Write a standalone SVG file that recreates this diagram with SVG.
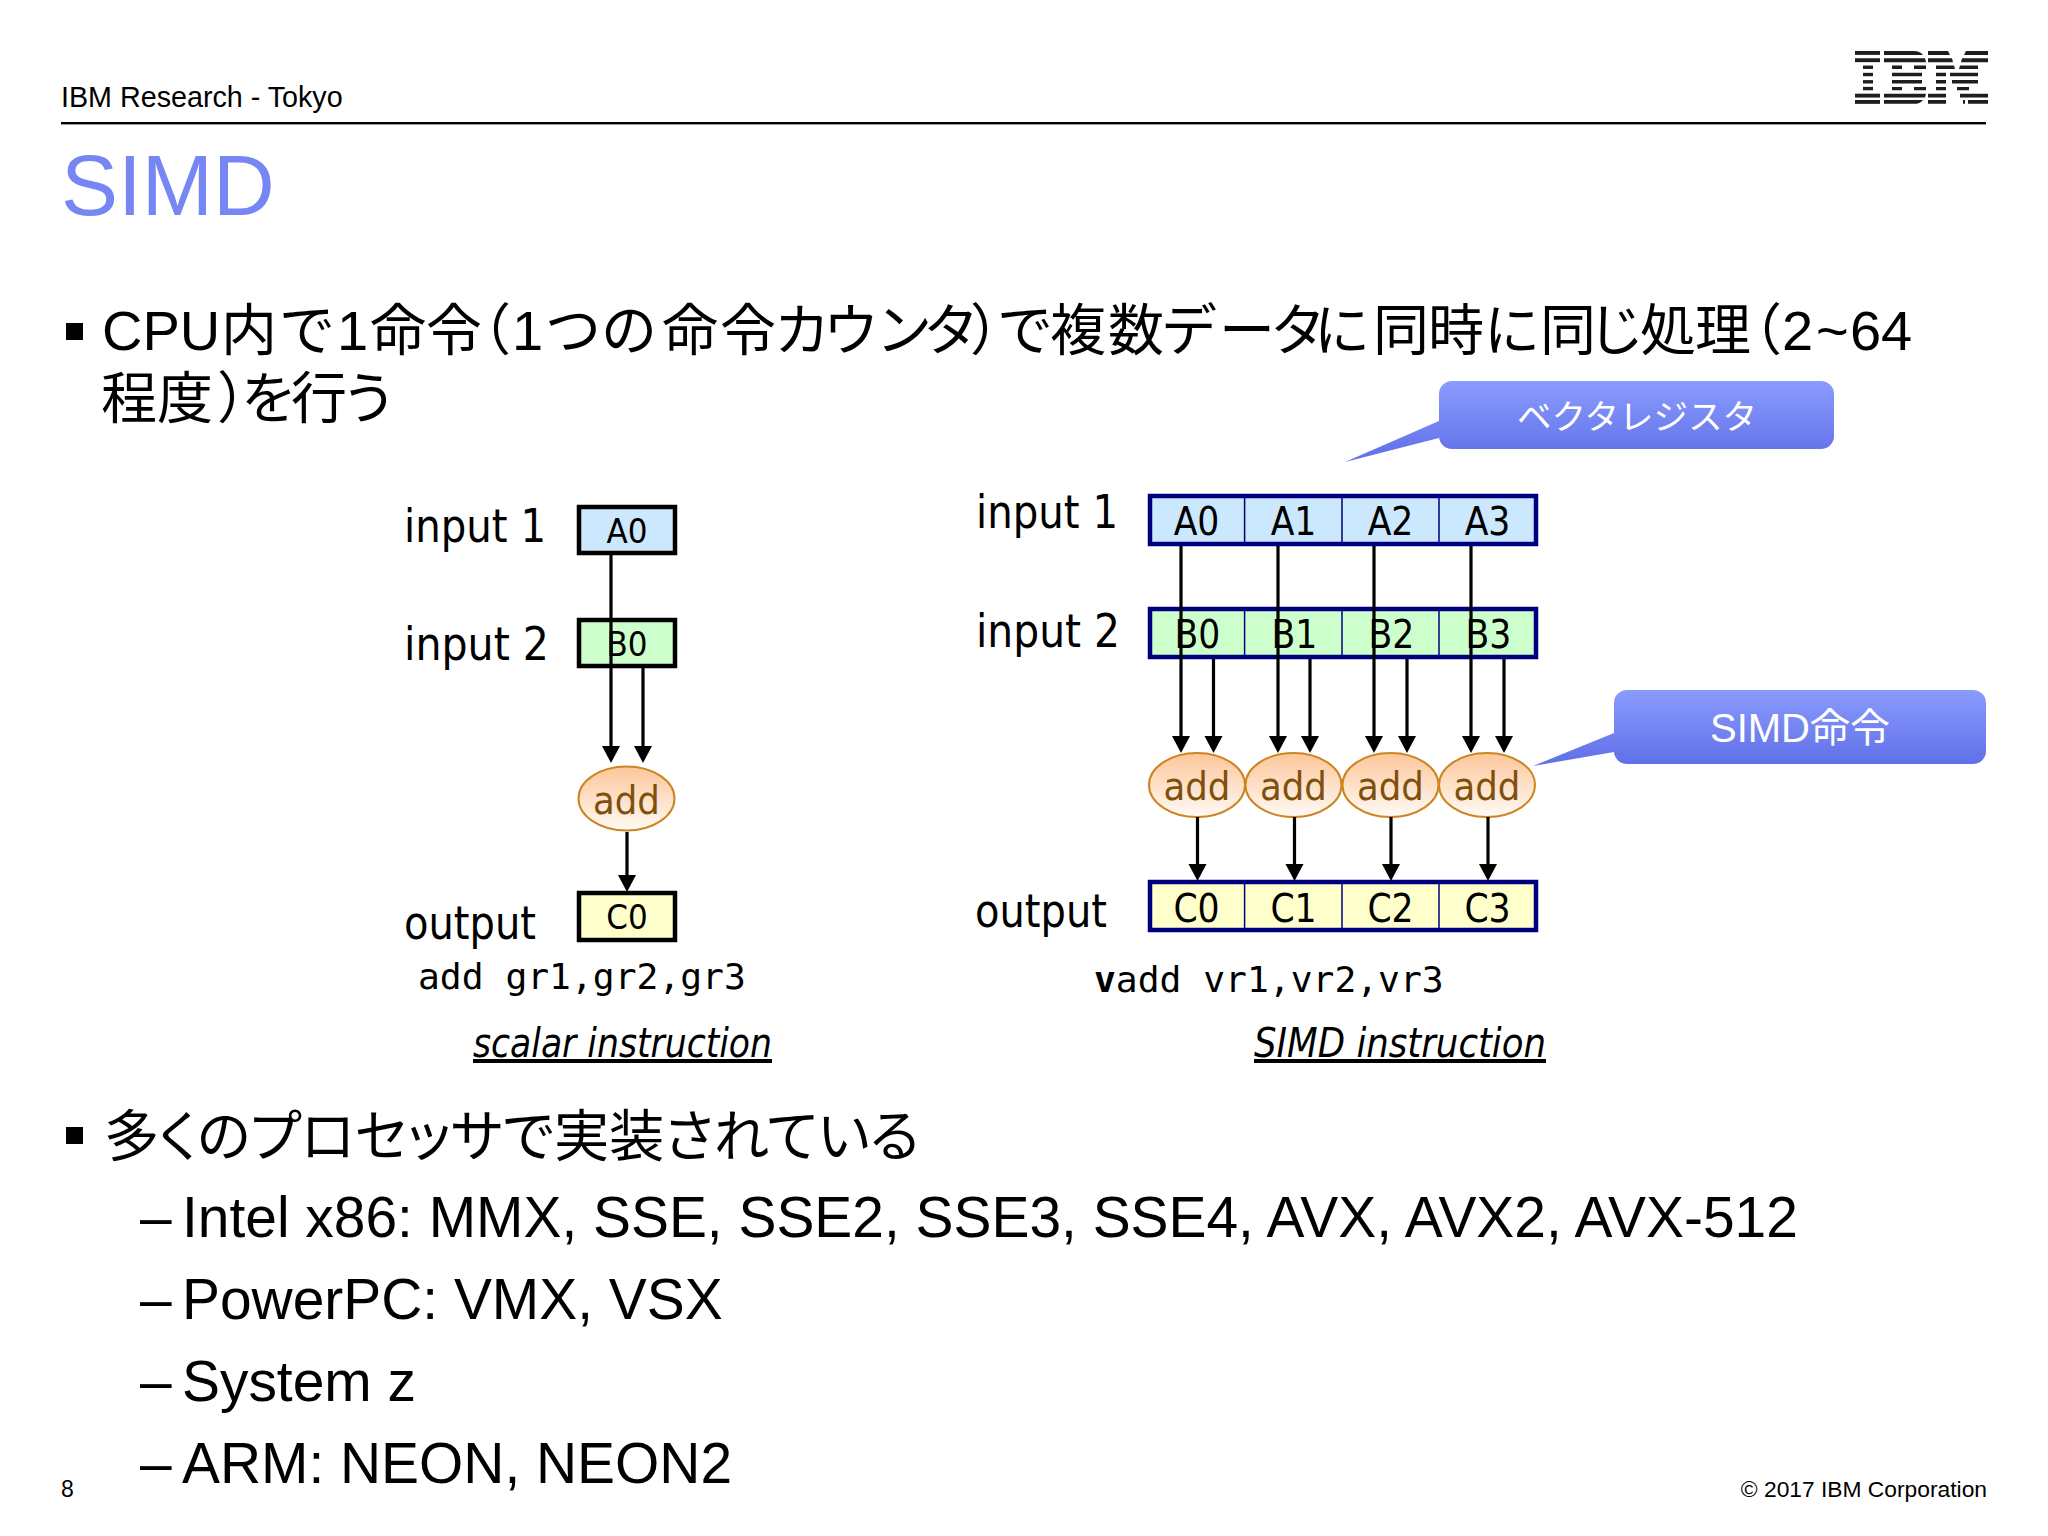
<svg xmlns="http://www.w3.org/2000/svg" width="2048" height="1536" viewBox="0 0 2048 1536">
<style>
.s{font-family:"Liberation Sans","Noto Sans CJK JP",sans-serif;fill:#000}
.j{font-family:"Liberation Sans","Noto Sans CJK JP",sans-serif;fill:#000;font-size:56px}
.p{font-size:55.2px;font-feature-settings:"palt"}
.b{font-size:56.9px}
.t{font-family:"DejaVu Sans Condensed","DejaVu Sans",sans-serif;fill:#000}
.lab{font-size:47px}
.r1{font-size:34.5px;text-anchor:middle}
.r2{font-size:38.5px;text-anchor:middle}
.add{fill:#7f4f0c;text-anchor:middle}
.box{stroke:#000;stroke-width:4.5}
.vec{stroke:#00007f;stroke-width:4.5;fill:none}
.div{stroke:#00007f;stroke-width:1.5}
.op{fill:url(#og);stroke:#cc8521;stroke-width:2}
.code{font-family:"DejaVu Sans Mono",monospace;font-size:36.3px;fill:#000}
.ins{font-family:"DejaVu Sans Condensed","DejaVu Sans",sans-serif;font-style:italic;font-size:40px;text-decoration:underline}
.conn line{stroke:#000;stroke-width:3.2;marker-end:url(#ah)}
.call{fill:url(#cg)}
.ct{font-family:"Liberation Sans","Noto Sans CJK JP",sans-serif;fill:#fff;text-anchor:middle}
.st{fill:#1e1e1e}
</style>
<defs>
<marker id="ah" markerUnits="userSpaceOnUse" markerWidth="20" markerHeight="20" refX="12" refY="9" orient="auto"><path d="M0,0 L17,9 L0,18 z" fill="#000"/></marker>
<linearGradient id="og" x1="0" y1="0" x2="0" y2="1"><stop offset="0" stop-color="#fcc699"/><stop offset="1" stop-color="#fffaf5"/></linearGradient>
<linearGradient id="cg" gradientUnits="objectBoundingBox" x1="0" y1="0" x2="0" y2="1"><stop offset="0" stop-color="#8a9bff"/><stop offset="1" stop-color="#5f6fe6"/></linearGradient>
</defs>
<rect width="2048" height="1536" fill="#fff"/>

<g id="header">
<text class="s" x="61" y="107" font-size="28.7">IBM Research - Tokyo</text>
<rect x="61" y="122" width="1925" height="2.4" fill="#000"/>
<g id="ibm-logo" class="st" transform="translate(0,0.56) scale(1,0.97)">
<rect x="1855" y="52" width="25" height="4"/><rect x="1855" y="59.5" width="25" height="4"/><rect x="1863" y="67" width="10" height="3.5"/><rect x="1863" y="74.5" width="10" height="3.5"/><rect x="1863" y="82" width="10" height="3.5"/><rect x="1863" y="89" width="10" height="3.5"/><rect x="1855" y="96" width="25" height="4"/><rect x="1855" y="102.5" width="25" height="4"/>
<path d="M1884,52h30q6,0 9,4h-39zM1884,59.5h41l1,4h-42zM1892,67h10v3.5h-10zM1914,67h12v3.5h-12zM1892,74.5h30v3.5h-30zM1892,82h30v3.5h-30zM1892,89h10v3.5h-10zM1914,89h12v3.5h-12zM1884,96h42l-1,4h-41zM1884,102.5h39q-3,4 -9,4h-30z"/>
<path d="M1928,52h20l2,4h-22zM1928,59.5h24l1,4h-25zM1936,67h18l1,3.5h-19zM1936,74.5h10v3.5h-10zM1950,74.5h28v3.5h-28zM1936,82h10v3.5h-10zM1952,82h26v3.5h-26zM1936,89h10v3.5h-10zM1957,89h12v3.5h-12zM1928,96h18v4h-18zM1960,96h28v4h-28zM1928,102.5h18v4h-18zM1963,102.5h2v4h-2zM1968,102.5h20v4h-20z"/>
<path d="M1966,52h22v4h-24zM1962,59.5h26v4h-27zM1960,67h18v3.5h-19z"/>
</g>
</g>
<text class="s" x="61" y="215" font-size="85.5" style="fill:#7687f4">SIMD</text>

<g id="bullets">
<rect x="66" y="323" width="17" height="17" fill="#000"/>
<text class="j" y="350" x="102 142.4 179.8 221 279 337 370 426 455 512 545 601 662 720 774 823 876 923 970 997 1050 1108 1161 1219 1270 1314 1373 1428 1484 1540 1588 1640 1695 1726 1782 1816 1850 1881">CPU内で1命令（1つの命令カウンタ）で複数データに同時に同じ処理（2~64</text>
<text class="j" y="418" x="101 157 217 241 291 341">程度）を行う</text>
<rect x="66" y="1127" width="17" height="17" fill="#000"/>
<text class="j p" x="104" y="1156">多くのプロセッサで実装されている</text>
<text class="s b" y="1237"><tspan x="140">–</tspan><tspan x="182">Intel x86: MMX, SSE, SSE2, SSE3, SSE4, AVX, AVX2, AVX-512</tspan></text>
<text class="s b" y="1319"><tspan x="140">–</tspan><tspan x="182">PowerPC: VMX, VSX</tspan></text>
<text class="s b" y="1401"><tspan x="140">–</tspan><tspan x="182">System z</tspan></text>
<text class="s b" y="1483"><tspan x="140">–</tspan><tspan x="182">ARM: NEON, NEON2</tspan></text>
</g>

<g id="scalar-labels">
<text class="t lab" x="404" y="542" textLength="142" lengthAdjust="spacingAndGlyphs">input 1</text>
<text class="t lab" x="404" y="660" textLength="145" lengthAdjust="spacingAndGlyphs">input 2</text>
<text class="t lab" x="404" y="939" textLength="132" lengthAdjust="spacingAndGlyphs">output</text>
<text class="code" x="418" y="989">add gr1,gr2,gr3</text>
<text class="ins" x="473" y="1057" textLength="299" lengthAdjust="spacingAndGlyphs">scalar instruction</text>
</g>
<g id="scalar-a0"><rect class="box" x="579" y="507" width="96" height="46" fill="#cce8ff"/><text class="t r1" x="627" y="543">A0</text></g>
<g id="scalar-b0"><rect class="box" x="579" y="620" width="96" height="46" fill="#ccffcc"/><text class="t r1" x="627" y="656">B0</text></g>
<g id="scalar-add"><ellipse class="op" cx="626.5" cy="798.5" rx="48" ry="32"/><text class="t add" x="626.5" y="814" font-size="39.5">add</text></g>
<g id="scalar-c0"><rect class="box" x="579" y="893" width="96" height="47" fill="#ffffcc"/><text class="t r1" x="627" y="929">C0</text></g>

<g id="simd-labels">
<text class="t lab" x="976" y="528" textLength="142" lengthAdjust="spacingAndGlyphs">input 1</text>
<text class="t lab" x="976" y="647" textLength="144" lengthAdjust="spacingAndGlyphs">input 2</text>
<text class="t lab" x="975" y="927" textLength="132" lengthAdjust="spacingAndGlyphs">output</text>
<text class="code" x="1094" y="992"><tspan font-weight="bold">v</tspan>add vr1,vr2,vr3</text>
<text class="ins" x="1254" y="1057" textLength="292" lengthAdjust="spacingAndGlyphs">SIMD instruction</text>
</g>
<g id="simd-a">
<rect x="1150" y="496" width="386" height="48" fill="#cce8ff"/>
<line class="div" x1="1244.6" y1="496" x2="1244.6" y2="544"/><line class="div" x1="1342" y1="496" x2="1342" y2="544"/><line class="div" x1="1439" y1="496" x2="1439" y2="544"/>
<rect class="vec" x="1150" y="496" width="386" height="48"/>
<text class="t r2" x="1196.5" y="535">A0</text><text class="t r2" x="1293.5" y="535">A1</text><text class="t r2" x="1390.5" y="535">A2</text><text class="t r2" x="1487.5" y="535">A3</text>
</g>
<g id="simd-b">
<rect x="1150" y="609" width="386" height="48" fill="#ccffcc"/>
<line class="div" x1="1244.6" y1="609" x2="1244.6" y2="657"/><line class="div" x1="1342" y1="609" x2="1342" y2="657"/><line class="div" x1="1439" y1="609" x2="1439" y2="657"/>
<rect class="vec" x="1150" y="609" width="386" height="48"/>
<text class="t r2" x="1197.5" y="647.5">B0</text><text class="t r2" x="1294.5" y="647.5">B1</text><text class="t r2" x="1391.5" y="647.5">B2</text><text class="t r2" x="1488.5" y="647.5">B3</text>
</g>
<g id="simd-add0"><ellipse class="op" cx="1197" cy="785" rx="48" ry="32"/><text class="t add" x="1197" y="800" font-size="39.5">add</text></g>
<g id="simd-add1"><ellipse class="op" cx="1293.5" cy="785" rx="48" ry="32"/><text class="t add" x="1293.5" y="800" font-size="39.5">add</text></g>
<g id="simd-add2"><ellipse class="op" cx="1390.5" cy="785" rx="48" ry="32"/><text class="t add" x="1390.5" y="800" font-size="39.5">add</text></g>
<g id="simd-add3"><ellipse class="op" cx="1487" cy="785" rx="48" ry="32"/><text class="t add" x="1487" y="800" font-size="39.5">add</text></g>
<g id="simd-c">
<rect x="1150" y="882" width="386" height="48" fill="#ffffcc"/>
<line class="div" x1="1244.6" y1="882" x2="1244.6" y2="930"/><line class="div" x1="1342" y1="882" x2="1342" y2="930"/><line class="div" x1="1439" y1="882" x2="1439" y2="930"/>
<rect class="vec" x="1150" y="882" width="386" height="48"/>
<text class="t r2" x="1196.5" y="921.5">C0</text><text class="t r2" x="1293.5" y="921.5">C1</text><text class="t r2" x="1390.5" y="921.5">C2</text><text class="t r2" x="1487.5" y="921.5">C3</text>
</g>

<g id="connectors" class="conn">
<line x1="611" y1="555" x2="611" y2="758"/>
<line x1="643" y1="668" x2="643" y2="758"/>
<line x1="627" y1="832" x2="627" y2="887"/>
<line x1="1181" y1="546" x2="1181" y2="748"/>
<line x1="1278" y1="546" x2="1278" y2="748"/>
<line x1="1374" y1="546" x2="1374" y2="748"/>
<line x1="1471" y1="546" x2="1471" y2="748"/>
<line x1="1213.5" y1="659" x2="1213.5" y2="748"/>
<line x1="1310" y1="659" x2="1310" y2="748"/>
<line x1="1407" y1="659" x2="1407" y2="748"/>
<line x1="1504" y1="659" x2="1504" y2="748"/>
<line x1="1197.5" y1="817" x2="1197.5" y2="876"/>
<line x1="1294.5" y1="817" x2="1294.5" y2="876"/>
<line x1="1391" y1="817" x2="1391" y2="876"/>
<line x1="1488" y1="817" x2="1488" y2="876"/>
</g>

<g id="callout-vector">
<path class="call" d="M1452,381H1821a13,13 0 0 1 13,13V436a13,13 0 0 1 -13,13H1452a13,13 0 0 1 -13,-13V438L1345,462L1439,421V394a13,13 0 0 1 13,-13z"/>
<text class="ct" x="1637" y="429" font-size="34.5">ベクタレジスタ</text>
</g>
<g id="callout-simd">
<path class="call" d="M1627,690H1973a13,13 0 0 1 13,13V751a13,13 0 0 1 -13,13H1627a13,13 0 0 1 -13,-13V752L1533,766L1614,733V703a13,13 0 0 1 13,-13z"/>
<text class="ct" x="1800" y="742" font-size="40">SIMD命令</text>
</g>

<g id="footer">
<text class="s" x="61" y="1497" font-size="23">8</text>
<text class="s" x="1987" y="1497" font-size="22.8" text-anchor="end">© 2017 IBM Corporation</text>
</g>
</svg>
